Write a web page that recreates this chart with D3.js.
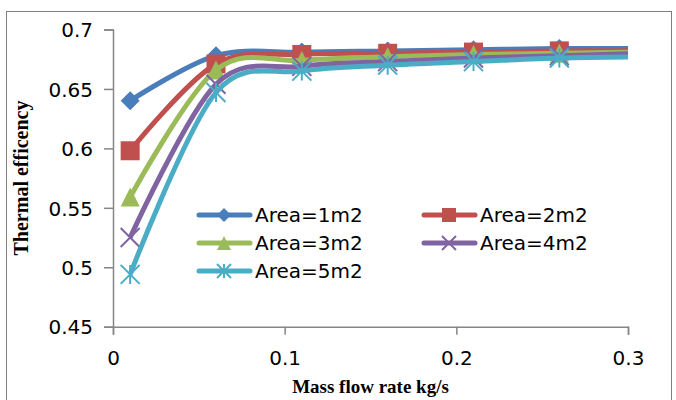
<!DOCTYPE html>
<html>
<head>
<meta charset="utf-8">
<script src="https://cdn.jsdelivr.net/npm/d3@7"></script>
<style>
  body { margin: 0; background: #fff; }
</style>
</head>
<body>
<script>
// using d3 v7
// thermal efficiency vs mass flow rate, smoothed lines with markers
var w = 676;
var h = 400;

// data
var massFlow = [0.01, 0.06, 0.11, 0.16, 0.21, 0.26, 0.31];
var area1 = [0.640, 0.678, 0.681, 0.682, 0.683, 0.684, 0.684];
var area2 = [0.598, 0.671, 0.679, 0.680, 0.681, 0.682, 0.682];
var area3 = [0.559, 0.666, 0.674, 0.677, 0.679, 0.680, 0.681];
var area4 = [0.525, 0.654, 0.669, 0.673, 0.676, 0.678, 0.680];
var area5 = [0.494, 0.647, 0.665, 0.670, 0.673, 0.676, 0.677];
var seriesNames = ["Area=1m2", "Area=2m2", "Area=3m2", "Area=4m2", "Area=5m2"];
var xTicks = [0, 0.1, 0.2, 0.3];
var yTicks = [0.45, 0.5, 0.55, 0.6, 0.65, 0.7];

var colors = ["#4a7ebb", "#c0504d", "#9bbb59", "#8064a2", "#4bacc6"];
var symbols = ["diamond", "square", "triangle", "x", "star"];
var allSeries = [area1, area2, area3, area4, area5];

// plot area
var plotLeft = 113, plotRight = 628, plotTop = 29.5, plotBottom = 326.7;

var x = d3.scaleLinear().domain([0, 0.3]).range([plotLeft, plotRight]);
var y = d3.scaleLinear().domain([0.45, 0.7]).range([plotBottom, plotTop]);

var svg = d3.select("body").append("svg")
  .attr("width", w)
  .attr("height", h);

// outer chart border
svg.append("rect")
  .attr("x", 6.5).attr("y", 11.5)
  .attr("width", 665).attr("height", 400)
  .attr("fill", "none")
  .attr("stroke", "#808080")
  .attr("stroke-width", 1);

// axes
var yAxis = d3.axisLeft(y).tickValues(yTicks).tickSize(9)
  .tickFormat(function(d){ return String(+d.toFixed(2)); });
var xAxis = d3.axisBottom(x).tickValues(xTicks).tickSize(8)
  .tickFormat(function(d){ return String(+d.toFixed(1)); });

var gy = svg.append("g").attr("transform", "translate(" + plotLeft + ",0)").call(yAxis);
var gx = svg.append("g").attr("transform", "translate(0," + plotBottom + ")").call(xAxis);

[gx, gy].forEach(function(g){
  g.select(".domain").attr("stroke", "#868686").attr("stroke-width", 1.5);
  g.selectAll(".tick line").attr("stroke", "#868686").attr("stroke-width", 1.5);
  g.selectAll(".tick text")
    .attr("fill", "#000")
    .style("font-family", "'DejaVu Sans', sans-serif")
    .style("font-size", "20px");
});
gy.selectAll(".tick text").attr("x", -20).attr("dy", "0.36em");
gx.selectAll(".tick text").attr("y", 24);

// axis titles
svg.append("text")
  .attr("x", (plotLeft + plotRight) / 2)
  .attr("y", 393)
  .attr("text-anchor", "middle")
  .style("font-family", "'Liberation Serif', serif")
  .style("font-weight", "bold")
  .style("font-size", "19px")
  .text("Mass flow rate kg/s");

svg.append("text")
  .attr("transform", "translate(28," + 178 + ") rotate(-90)")
  .attr("text-anchor", "middle")
  .style("font-family", "'Liberation Serif', serif")
  .style("font-weight", "bold")
  .style("font-size", "20px")
  .text("Thermal efficency");

// clip to plot area
svg.append("clipPath").attr("id", "plotClip")
  .append("rect")
  .attr("x", plotLeft).attr("y", plotTop - 20)
  .attr("width", plotRight - plotLeft).attr("height", plotBottom - plotTop + 20);

var plot = svg.append("g").attr("clip-path", "url(#plotClip)");

var line = d3.line()
  .x(function(d, i){ return x(massFlow[i]); })
  .y(function(d){ return y(d); })
  .curve(d3.curveCatmullRom.alpha(0));

// marker drawing
function drawMarker(g, type, color, s) {
  var r = s / 2;
  if (type == "diamond") {
    g.append("path").attr("d", "M0," + (-r) + "L" + r + ",0L0," + r + "L" + (-r) + ",0Z")
      .attr("fill", color);
  } else if (type == "square") {
    g.append("rect").attr("x", -r).attr("y", -r).attr("width", s).attr("height", s)
      .attr("fill", color);
  } else if (type == "triangle") {
    g.append("path").attr("d", "M0," + (-r) + "L" + r + "," + r + "L" + (-r) + "," + r + "Z")
      .attr("fill", color);
  } else if (type == "x") {
    g.append("path").attr("d", "M" + (-r) + "," + (-r) + "L" + r + "," + r + "M" + r + "," + (-r) + "L" + (-r) + "," + r)
      .attr("stroke", color).attr("stroke-width", 2);
  } else if (type == "star") {
    g.append("path").attr("d", "M" + (-r) + "," + (-r) + "L" + r + "," + r + "M" + r + "," + (-r) + "L" + (-r) + "," + r +
        "M0," + (-r) + "L0," + r)
      .attr("stroke", color).attr("stroke-width", 2);
  }
}

// lines then markers, in series order
allSeries.forEach(function(vals, k){
  plot.append("path")
    .datum(vals)
    .attr("d", line)
    .attr("fill", "none")
    .attr("stroke", colors[k])
    .attr("stroke-width", 5)
    .attr("stroke-linejoin", "round");

  plot.selectAll(".m" + k)
    .data(vals)
    .enter()
    .append("g")
    .attr("class", "m" + k)
    .attr("transform", function(d, i){ return "translate(" + x(massFlow[i]) + "," + y(d) + ")"; })
    .each(function(){ drawMarker(d3.select(this), symbols[k], colors[k], 19); });
});

// legend
var legendPos = [
  {lx: 197, ly: 215}, {lx: 422, ly: 215},
  {lx: 197, ly: 243}, {lx: 422, ly: 243},
  {lx: 197, ly: 271}
];

var legend = svg.selectAll(".legend")
  .data(seriesNames)
  .enter()
  .append("g")
  .attr("class", "legend")
  .attr("transform", function(d, i){ return "translate(" + legendPos[i].lx + "," + legendPos[i].ly + ")"; });

legend.append("line")
  .attr("x1", 2).attr("x2", 53)
  .attr("y1", 0).attr("y2", 0)
  .attr("stroke", function(d, i){ return colors[i]; })
  .attr("stroke-width", 5)
  .attr("stroke-linecap", "round");

legend.each(function(d, i){
  var g = d3.select(this).append("g").attr("transform", "translate(27,0)");
  drawMarker(g, symbols[i], colors[i], 14);
});

legend.append("text")
  .attr("x", 58)
  .attr("y", 0)
  .attr("dy", "0.36em")
  .style("font-family", "'DejaVu Sans', sans-serif")
  .style("font-size", "20px")
  .text(function(d){ return d; });
</script>
</body>
</html>
